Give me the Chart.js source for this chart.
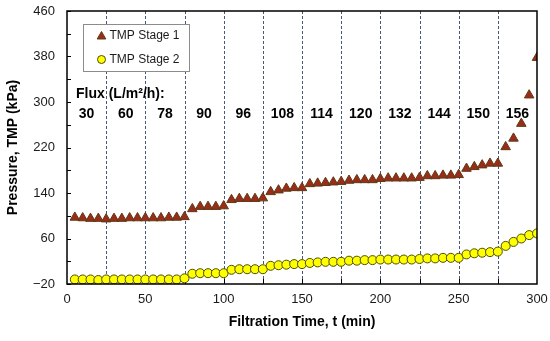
<!DOCTYPE html>
<html>
<head>
<meta charset="utf-8">
<script src="https://cdn.jsdelivr.net/npm/chart.js@4/dist/chart.umd.min.js"></script>
<style>
  html, body { margin: 0; padding: 0; background: #fff; }
</style>
</head>
<body>
<canvas id="tmpChart" width="550" height="341"></canvas>
<script>
// filtration time (min) of each reading
const timeMin = [5, 10, 15, 20, 25, 30, 35, 40, 45, 50, 55, 60, 65, 70, 75,
  80, 85, 90, 95, 100, 105, 110, 115, 120, 125, 130, 135, 140, 145, 150,
  155, 160, 165, 170, 175, 180, 185, 190, 195, 200, 205, 210, 215, 220, 225,
  230, 235, 240, 245, 250, 255, 260, 265, 270, 275, 280, 285, 290, 295, 300];

// TMP (kPa)
const tmpStage1 = [97, 96, 95, 95, 94, 95, 95, 96, 96, 96, 96, 96, 97, 97, 98,
  112, 116, 116, 116, 117, 128, 130, 130, 130, 131, 142, 145, 148, 149, 149,
  156, 157, 158, 159, 160, 162, 163, 163, 163, 165, 166, 166, 166, 166, 167,
  170, 170, 171, 171, 172, 183, 186, 189, 192, 192, 221, 236, 262, 312, 378];

const tmpStage2 = [-12, -12, -12, -13, -12, -12, -12, -12, -12, -12, -12, -12, -12, -12, -10,
  -2, -1, -1, -1, -1, 5, 6, 6, 6, 6, 12, 13, 14, 15, 15,
  17, 18, 19, 19, 19, 21, 21, 22, 22, 23, 23, 23, 23, 23, 24,
  25, 25, 26, 26, 26, 32, 34, 35, 36, 37, 47, 54, 60, 66, 69];

// flux steps: edges of each step (min) and the flux used in it
const fluxEdges = [0, 25, 50, 75, 100, 125, 150, 175, 200, 225, 250, 275, 300];
const fluxValues = ['30', '60', '78', '90', '96', '108', '114', '120', '132', '144', '150', '156'];

const yTicks = { min: -20, max: 460, step: 80 };
const xTicks = { min: 0, max: 300, step: 50 };

const FONT = '"Liberation Sans", Arial, sans-serif';
const triFill = '#9a2c1c', triLine = '#5e3a12';
const dotFill = '#ffff00', dotLine = '#4d4d00';

function drawMarker(ctx, style, x, y, r) {
  ctx.beginPath();
  if (style === 'triangle') {
    ctx.moveTo(x, y - r);
    ctx.lineTo(x + r * 0.866, y + r / 2);
    ctx.lineTo(x - r * 0.866, y + r / 2);
    ctx.closePath();
  } else {
    ctx.arc(x, y, r, 0, Math.PI * 2);
  }
  ctx.fill();
  ctx.stroke();
}

const overlay = {
  id: 'overlay',
  beforeDatasetsDraw(chart) {
    const { ctx, chartArea: a, scales: { x, y } } = chart;
    ctx.save();
    // flux step separators
    ctx.strokeStyle = '#44597a';
    ctx.lineWidth = 1;
    ctx.setLineDash([3, 2]);
    fluxEdges.slice(1, -1).forEach(t => {
      const px = Math.round(x.getPixelForValue(t)) + 0.5;
      ctx.beginPath();
      ctx.moveTo(px, a.top);
      ctx.lineTo(px, a.bottom);
      ctx.stroke();
    });
    ctx.setLineDash([]);
    // inside tick marks
    ctx.strokeStyle = '#000';
    fluxEdges.slice(1, -1).forEach(t => {
      const px = Math.round(x.getPixelForValue(t)) + 0.5;
      ctx.beginPath();
      ctx.moveTo(px, a.bottom);
      ctx.lineTo(px, a.bottom - 5);
      ctx.stroke();
    });
    for (let v = yTicks.min; v <= yTicks.max; v += yTicks.step / 2) {
      const py = Math.round(y.getPixelForValue(v)) + 0.5;
      ctx.beginPath();
      ctx.moveTo(a.left, py);
      ctx.lineTo(a.left + 4, py);
      ctx.stroke();
    }
    // flux annotations
    ctx.fillStyle = '#000';
    ctx.font = 'bold 14px ' + FONT;
    ctx.textBaseline = 'middle';
    ctx.textAlign = 'left';
    ctx.fillText('Flux (L/m\u00b2/h):', a.left + 9, y.getPixelForValue(313));
    ctx.textAlign = 'center';
    fluxValues.forEach((lab, i) => {
      const mid = (fluxEdges[i] + fluxEdges[i + 1]) / 2;
      ctx.fillText(lab, x.getPixelForValue(mid), y.getPixelForValue(278));
    });
    ctx.restore();
  },
  afterDraw(chart) {
    const { ctx, chartArea: a } = chart;
    ctx.save();
    // plot frame
    ctx.strokeStyle = '#000';
    ctx.lineWidth = 1.5;
    ctx.strokeRect(a.left, a.top, a.right - a.left, a.bottom - a.top);
    // legend
    const lx = a.left + 16.5, ly = a.top + 13.5;
    ctx.fillStyle = '#fff';
    ctx.fillRect(lx, ly, 106, 47);
    ctx.strokeStyle = '#8c8c8c';
    ctx.lineWidth = 1;
    ctx.strokeRect(lx, ly, 106, 47);
    chart.data.datasets.forEach((ds, i) => {
      const cy = ly + 11 + i * 24;
      ctx.fillStyle = ds.backgroundColor;
      ctx.strokeStyle = ds.borderColor;
      ctx.lineWidth = 1;
      drawMarker(ctx, ds.pointStyle, lx + 18, cy + (ds.pointStyle === 'triangle' ? 1 : 0), ds.pointStyle === 'triangle' ? 5 : 4);
      ctx.fillStyle = '#1a1a1a';
      ctx.font = '12px ' + FONT;
      ctx.textAlign = 'left';
      ctx.textBaseline = 'middle';
      ctx.fillText(ds.label, lx + 26, cy);
    });
    ctx.restore();
  }
};

const minusFmt = v => (v < 0 ? '\u2212' + Math.abs(v) : String(v));

new Chart(document.getElementById('tmpChart').getContext('2d'), {
  type: 'scatter',
  data: {
    datasets: [{
      label: 'TMP Stage 1',
      data: timeMin.map((t, i) => ({ x: t, y: tmpStage1[i] })),
      pointStyle: 'triangle',
      pointRadius: 5.5,
      backgroundColor: triFill,
      borderColor: triLine,
      borderWidth: 1
    }, {
      label: 'TMP Stage 2',
      data: timeMin.map((t, i) => ({ x: t, y: tmpStage2[i] })),
      pointStyle: 'circle',
      pointRadius: 4.5,
      backgroundColor: dotFill,
      borderColor: dotLine,
      borderWidth: 1
    }]
  },
  options: {
    responsive: false,
    devicePixelRatio: 1,
    animation: false,
    layout: { padding: { top: 11, right: 13, left: 0, bottom: 0 } },
    plugins: {
      legend: { display: false },
      tooltip: { enabled: false }
    },
    scales: {
      x: {
        type: 'linear',
        min: xTicks.min,
        max: xTicks.max,
        grid: { display: false, drawTicks: false },
        border: { display: false },
        ticks: {
          stepSize: xTicks.step,
          padding: 8,
          color: '#1a1a1a',
          font: { family: FONT, size: 13 }
        },
        title: {
          display: true,
          text: 'Filtration Time, t (min)',
          color: '#000',
          font: { family: FONT, size: 14, weight: 'bold' },
          padding: { top: 0, bottom: 10 }
        },
        afterFit: s => { s.height = 57; s.paddingLeft = 0; s.paddingRight = 0; }
      },
      y: {
        min: yTicks.min,
        max: yTicks.max,
        grid: { display: false, drawTicks: false },
        border: { display: false },
        ticks: {
          stepSize: yTicks.step,
          padding: 12,
          color: '#1a1a1a',
          font: { family: FONT, size: 13 },
          callback: minusFmt
        },
        title: {
          display: true,
          text: 'Pressure, TMP (kPa)',
          color: '#000',
          font: { family: FONT, size: 14, weight: 'bold' },
          padding: { top: 5, bottom: 0 }
        },
        afterFit: s => { s.width = 67; s.paddingTop = 0; s.paddingBottom = 0; }
      }
    }
  },
  plugins: [overlay]
});
</script>
</body>
</html>
